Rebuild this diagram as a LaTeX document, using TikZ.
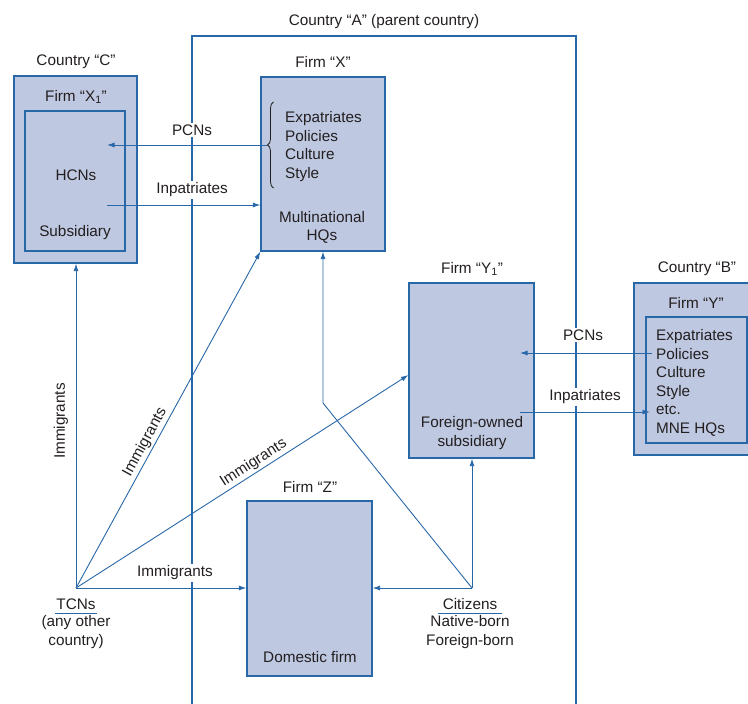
\documentclass[tikz,border=0pt]{standalone}
\usepackage{fontspec}
\setmainfont{Liberation Sans}
\usetikzlibrary{arrows.meta,decorations.pathreplacing}
\definecolor{boxfill}{HTML}{BEC8E1}
\definecolor{lineblue}{HTML}{2867A8}
\definecolor{txt}{HTML}{231F20}
\begin{document}
\begin{tikzpicture}[x=1pt,y=-1pt,
  every node/.style={text=txt,font=\fontsize{15.3}{18.5}\selectfont},
  box/.style={draw=lineblue,fill=boxfill,line width=1.3pt,inner sep=0pt},
  conn/.style={draw=lineblue,line width=0.9pt,-{Latex[length=7.5pt,width=5pt]}},
  plain/.style={draw=lineblue,line width=0.9pt},
  lbl/.style={fill=white,inner sep=1.5pt},
  txtblock/.style={align=left,inner sep=0pt,anchor=north west},
  cent/.style={align=center,inner sep=0pt}
]
\useasboundingbox (0,0) rectangle (748,704);
\clip (0,0) rectangle (748,704);

% Country A border
\draw[lineblue,line width=2.2pt] (192,704) -- (192,36) -- (576,36) -- (576,704);
\node[cent] (ctyA) at (384,22) {Country “A” (parent country)};

% Country C
\node[box,minimum width=123pt,minimum height=187pt] (ctyC) at (75.5,169.5) {};
\node[box,minimum width=100pt,minimum height=140pt] (subC) at (75,181) {};
\node[cent] (ctyClbl) at (76,62) {Country “C”};
\node[cent] (firmX1) at (76,97) {Firm “X\textsubscript{1}”};
\node[cent] (hcns) at (76,175) {HCNs};
\node[cent] (subsid) at (75,233) {Subsidiary};

% Firm X
\node[box,minimum width=124pt,minimum height=174pt] (firmX) at (323,164) {};
\node[cent] (firmXlbl) at (323,62) {Firm “X”};
\node[txtblock] (xlist) at (285,111.5) {Expatriates\\Policies\\Culture\\Style};
\draw[txt,line width=0.8pt,decorate,decoration={brace,amplitude=6pt}] (273.5,188) -- (273.5,102);
\coordinate (bracetip) at (267,145);
\node[cent] (mhq) at (322,227.5) {Multinational\\HQs};

% Firm Y1
\node[box,minimum width=125pt,minimum height=175pt] (firmY1) at (471.5,370.5) {};
\node[cent] (firmY1lbl) at (472,269) {Firm “Y\textsubscript{1}”};
\node[cent] (fos) at (472,433) {Foreign-owned\\subsidiary};

% Country B
\node[box,minimum width=124pt,minimum height=172pt] (ctyB) at (696,369) {};
\node[box,minimum width=101pt,minimum height=126pt] (firmYin) at (696.5,380) {};
\node[cent] (ctyBlbl) at (697,269) {Country “B”};
\node[cent] (firmYlbl) at (696,303) {Firm “Y”};
\node[txtblock] (ylist) at (656,329.5) {Expatriates\\Policies\\Culture\\Style\\etc.\\MNE HQs};

% Firm Z
\node[box,minimum width=125pt,minimum height=175pt] (firmZ) at (309.5,588.5) {};
\node[cent] (firmZlbl) at (310,487) {Firm “Z”};
\node[cent] (domf) at (310,657) {Domestic firm};

% TCNs and Citizens
\coordinate (tcn) at (76,588);
\coordinate (cit) at (472,588);
\node[cent] (tcnlbl) at (76,604) {TCNs};
\draw[lineblue,line width=0.8pt] (55,613) -- (97,613);
\node[cent] (tcnsub) at (76,632) {(any other\\country)};
\node[cent] (citlbl) at (470,604) {Citizens};
\draw[lineblue,line width=0.8pt] (438,613) -- (502,613);
\node[cent] (citsub) at (470,632) {Native-born\\Foreign-born};

% Connectors X <-> C
\draw[conn] (bracetip) -- (107,145);
\draw[conn] (107,205) -- (firmX.west |- 0,205);
\node[lbl] (pcn1) at (192,130) {PCNs};
\node[lbl] (inp1) at (192,190) {Inpatriates};

% Connectors Y <-> Y1
\draw[conn] (652,353) -- (520,353);
\draw[conn] (520,412) -- (650,412);
\node[lbl] (pcn2) at (583,335) {PCNs};
\node[lbl] (inp2) at (585,397) {Inpatriates};

% TCN connectors
\draw[conn] (tcn) -- (ctyC.south -| tcn);
\node[rotate=90,cent] (imm1) at (61,421) {Immigrants};
\draw[conn] (tcn) -- (firmX.south west) node[pos=0.42,sloped,above,inner sep=2pt] (imm2) {Immigrants};
\draw[conn] (tcn) -- (firmY1.west |- 0,375) node[pos=0.55,sloped,above,inner sep=2pt] (imm3) {Immigrants};
\draw[conn] (tcn) -- (firmZ.west |- tcn);
\node[lbl] (imm4) at (175,573) {Immigrants};

% Citizens connectors
\draw[conn] (cit) -- (firmZ.east |- cit);
\draw[conn] (cit) -- (firmY1.south -| cit);
\draw[conn] (cit) -- (323,403) -- (firmX.south -| 323,0);
\end{tikzpicture}
\end{document}
